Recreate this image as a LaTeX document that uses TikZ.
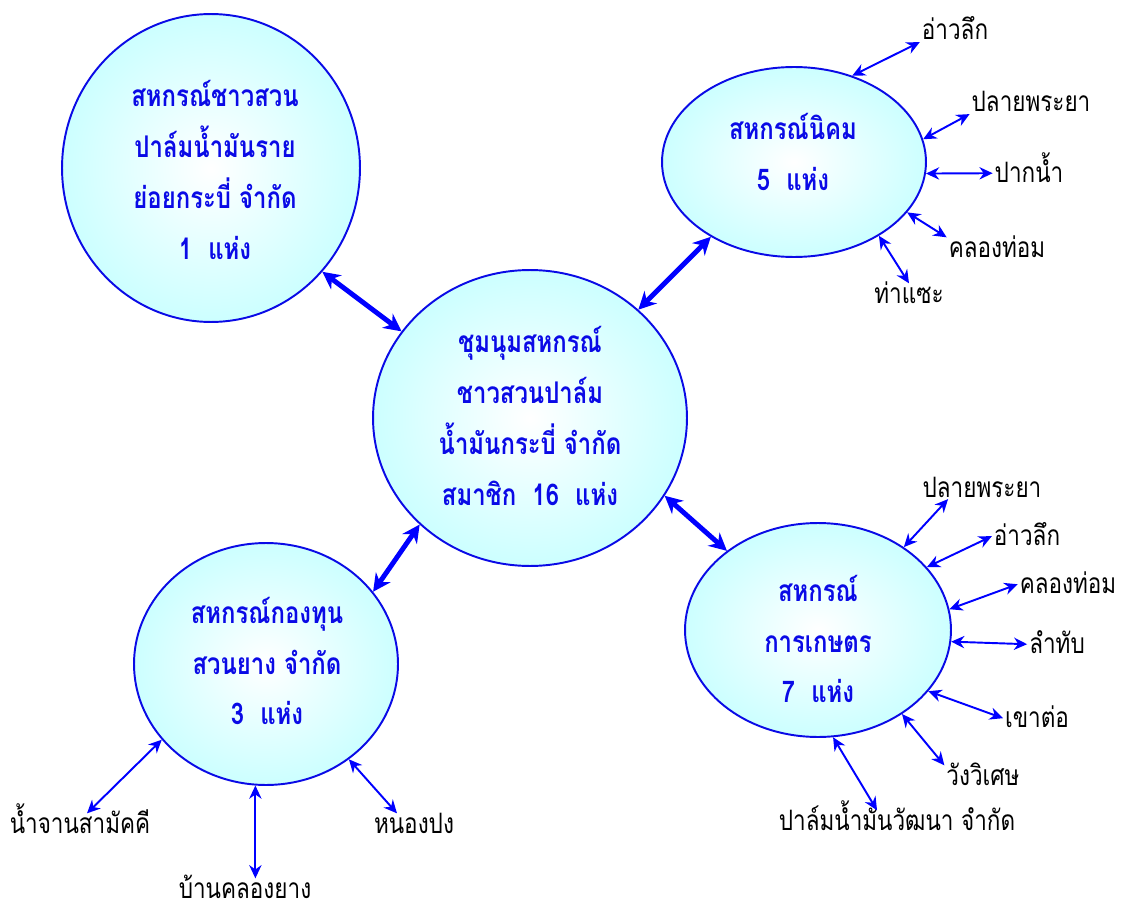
\documentclass[tikz,border=0pt]{standalone}
\usepackage{fontspec}
\setmainfont[Script=Thai]{Loma}
\newfontfamily\coopfont[Script=Thai,FakeStretch=0.8]{Loma}
\newfontfamily\placefont[Script=Thai,FakeStretch=0.8]{Loma}
\usetikzlibrary{shapes.geometric,arrows.meta}

\definecolor{coopblue}{RGB}{10,10,230}
\definecolor{coopfill}{RGB}{204,255,255}

\tikzset{
  coop/.style={ellipse, draw=coopblue, line width=1.1pt, inner color=white, outer color=coopfill, inner sep=0pt},
  cooptext/.style={text=coopblue, align=center, font=\coopfont\fontsize{17}{29}\selectfont\bfseries},
  place/.style={font=\placefont\fontsize{16}{18}\selectfont, text height=10pt, text depth=0pt, inner sep=1pt, anchor=base},
  link/.style={draw=blue, line width=2.8pt, {Stealth[length=10pt,width=10pt]}-{Stealth[length=10pt,width=10pt]}},
  branch/.style={draw=blue, line width=1.1pt, {Stealth[length=7.5pt,width=7pt]}-{Stealth[length=7.5pt,width=7pt]}}
}

\begin{document}
\begin{tikzpicture}[x=0.02cm, y=-0.02cm]
  \useasboundingbox (0,0) rectangle (1123,909);

  % circles
  \node[coop, minimum width=5.96cm, minimum height=6.16cm] (small) at (211,168) {};
  \node[coop, minimum width=6.28cm, minimum height=5.92cm] (hub) at (530,418) {};
  \node[coop, minimum width=5.28cm, minimum height=3.80cm] (nikhom) at (794,162) {};
  \node[coop, minimum width=5.32cm, minimum height=4.28cm] (kaset) at (818,630) {};
  \node[coop, minimum width=5.28cm, minimum height=4.84cm] (rubber) at (266,664) {};

  % circle texts
  \node[cooptext] (smalltxt) at (215,170) {สหกรณ์ชาวสวน\\ปาล์มน้ำมันราย\\ย่อยกระบี่ จำกัด\\1\ \ แห่ง};
  \node[cooptext] (hubtxt) at (530,416) {ชุมนุมสหกรณ์\\ชาวสวนปาล์ม\\น้ำมันกระบี่ จำกัด\\สมาชิก\ \ 16\ \ แห่ง};
  \node[cooptext] (nikhomtxt) at (793,152) {สหกรณ์นิคม\\5\ \ แห่ง};
  \node[cooptext] (kasettxt) at (818,639) {สหกรณ์\\การเกษตร\\7\ \ แห่ง};
  \node[cooptext] (rubbertxt) at (267,661) {สหกรณ์กองทุน\\สวนยาง จำกัด\\3\ \ แห่ง};

  % places
  \node[place] (nk1) at (955,40) {อ่าวลึก};
  \node[place] (nk2) at (1031,112) {ปลายพระยา};
  \node[place] (nk3) at (1029,182) {ปากน้ำ};
  \node[place] (nk4) at (997,257) {คลองท่อม};
  \node[place] (nk5) at (909,303) {ท่าแซะ};
  \node[place] (ks1) at (982,497) {ปลายพระยา};
  \node[place] (ks2) at (1027,545) {อ่าวลึก};
  \node[place] (ks3) at (1068,593) {คลองท่อม};
  \node[place] (ks4) at (1057,653) {ลำทับ};
  \node[place] (ks5) at (1037,727) {เขาต่อ};
  \node[place] (ks6) at (983,785) {วังวิเศษ};
  \node[place] (ks7) at (897,830) {ปาล์มน้ำมันวัฒนา จำกัด};
  \node[place] (rb1) at (80,833) {น้ำจานสามัคคี};
  \node[place] (rb2) at (245,898) {บ้านคลองยาง};
  \node[place] (rb3) at (414,833) {หนองปง};

  % links
  \draw[link] (small.-43.7) -- (hub.146.2);
  \draw[link] (hub.45.8) -- (nikhom.-138.2);
  \draw[link] (hub.-30.2) -- (kaset.139.4);
  \draw[link] (hub.-136.6) -- (rubber.34.4);

  % branches
  \draw[branch] (nikhom.56.5) -- (nk1.south west);
  \draw[branch] (nikhom.10) -- (nk2.south west);
  \draw[branch] (nikhom.-5.6) -- (nk3.west);
  \draw[branch] (nikhom.-24) -- (nk4.north west);
  \draw[branch] (nikhom.-41.8) -- (nk5.north);
  \draw[branch] (kaset.44.7) -- ([xshift=0.55cm]ks1.south west);
  \draw[branch] (kaset.30.4) -- (ks2.west);
  \draw[branch] (kaset.9.3) -- (ks3.west);
  \draw[branch] (kaset.-5.5) -- (ks4.west);
  \draw[branch] (kaset.-29.6) -- (ks5.west);
  \draw[branch] (kaset.-45.7) -- (ks6.north west);
  \draw[branch] (kaset.-82.7) -- ([xshift=-0.4cm]ks7.north);
  \draw[branch] (rubber.-144.4) -- ([xshift=0.14cm]rb1.north);
  \draw[branch] (rubber.-95.4) -- (rubber.-95.4 |- rb2.north);
  \draw[branch] (rubber.-49.6) -- ([xshift=-0.34cm]rb3.north);

\end{tikzpicture}
\end{document}
